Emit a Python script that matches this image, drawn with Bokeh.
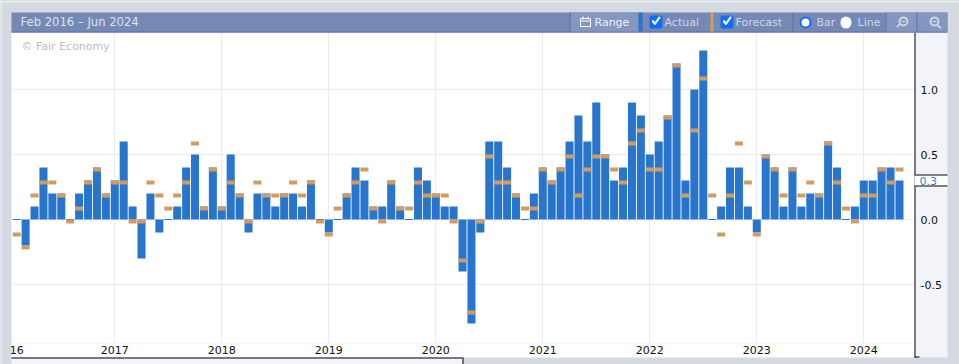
from bokeh.embed import file_html
from bokeh.resources import INLINE
from bokeh.plotting import figure
from bokeh.core.properties import value
from bokeh.models import FixedTicker, Range1d, NumeralTickFormatter, ColumnDataSource

# months since Feb 2016
actual = [0.0,-0.2,0.1,0.4,0.2,0.2,0.0,0.2,0.3,0.4,0.2,0.3,0.6,0.1,-0.3,0.2,-0.1,0.0,0.1,0.4,
          0.5,0.1,0.4,0.1,0.5,0.2,-0.1,0.2,0.2,0.1,0.2,0.2,0.1,0.3,0.0,-0.1,0.0,0.2,0.4,0.3,
          0.1,0.1,0.3,0.1,0.0,0.4,0.3,0.2,0.1,0.1,-0.4,-0.8,-0.1,0.6,0.6,0.4,0.2,0.0,0.2,0.4,
          0.3,0.4,0.6,0.8,0.6,0.9,0.5,0.3,0.4,0.9,0.8,0.5,0.6,0.8,1.2,0.3,1.0,1.3,0.0,0.1,
          0.4,0.4,0.1,-0.1,0.5,0.4,0.1,0.4,0.1,0.2,0.2,0.6,0.4,0.0,0.1,0.3,0.3,0.4,0.4,0.3]
forecast = [-0.1,-0.2,0.2,0.3,0.3,0.2,0.0,0.1,0.3,0.4,0.2,0.3,0.3,0.0,0.0,0.3,0.2,0.1,0.2,0.3,
            0.6,0.1,0.4,0.1,0.3,0.2,0.0,0.3,0.2,0.2,0.2,0.3,0.2,0.3,0.0,-0.1,0.1,0.2,0.3,0.4,
            0.1,0.0,0.3,0.1,0.1,0.3,0.2,0.2,0.2,0.0,-0.3,-0.7,0.0,0.5,0.3,0.3,0.2,0.1,0.1,0.4,
            0.3,0.4,0.5,0.2,0.4,0.5,0.5,0.4,0.3,0.6,0.7,0.4,0.4,0.8,1.2,0.2,0.7,1.1,0.2,-0.1,
            0.2,0.6,0.3,-0.1,0.5,0.4,0.2,0.4,0.2,0.3,0.2,0.6,0.3,0.1,0.0,0.2,0.2,0.4,0.3,0.4]
year_ticks = [11, 23, 35, 47, 59, 71, 83, 95]
year_labels = ["2017", "2018", "2019", "2020", "2021", "2022", "2023", "2024"]
value_ticks = [-0.5, 0.0, 0.5, 1.0]

BG, HEAD, HEAD2, PANEL = "#d5d9e2", "#7589b5", "#8497bf", "#f3f4f9"
BLUE, ORANGE, GRID = "#2875ce", "#d39c5e", "#e9eaf3"
LT = "#cfd6e6"
TITLE = "#dde2ee"
SEP = "#5a72a6"
TICKBOX = "#0d6efd"
W, H = 959, 364
ABS = {"position": "absolute", "left": "0px", "top": "0px"}

x = list(range(len(actual)))
MARK = 4 / 130        # forecast tick height (4px at 130px per unit)
THIN = 0.5 / 130
src = ColumnDataSource(dict(
    x=x,
    top=[a if a != 0 else THIN for a in actual],
    bottom=[0 if a != 0 else -THIN for a in actual],
    ftop=forecast,
    fbottom=[f - MARK for f in forecast],
))


def chrome_figure():
    f = figure(width=W, height=H, output_backend="svg", toolbar_location=None,
               x_range=Range1d(0, W), y_range=Range1d(H, 0),
               x_axis_type=None, y_axis_type=None,
               min_border=0, outline_line_color=None, styles=ABS)
    f.border_fill_alpha = 0
    f.background_fill_alpha = 0
    return f


back = chrome_figure()
front = chrome_figure()


def box(f, l, t, r, b, color=None, line=None, lw=1, radius=0):
    f.quad(left=[l], right=[r], top=[t], bottom=[b],
           fill_color=color, fill_alpha=1 if color else 0,
           line_color=line, line_width=lw, line_alpha=1 if line else 0,
           border_radius=radius)


def poly(f, xs, ys, color):
    f.patch(x=xs, y=ys, fill_color=color, line_color=color, line_width=0.5)


def label(f, px, py, s, color, size="11px"):
    f.text(x=[px], y=[py], text=[s], text_color=color, text_font=value("DejaVu Sans"),
           text_font_size=value(size), text_align="left", text_baseline="middle")


# page and panels behind the plot
box(back, 0, 0, W, H, BG)
box(back, 0, 0, W, 2, "#e8eaef")
box(back, 0, 0, 1, H, "#ffffff")
box(back, 915, 32, 947, 357, PANEL)
box(back, 11, 343, 915, 357, "white")
box(back, 11, 357, 462, H, PANEL)

p = figure(width=W, height=H, output_backend="svg", toolbar_location=None,
           x_range=Range1d(-0.583, 100.8), y_range=Range1d(-0.9538, 1.4385),
           y_axis_location="right",
           min_border_left=11, min_border_right=44, min_border_top=32, min_border_bottom=21,
           background_fill_color="white", outline_line_color=None, styles=ABS)
p.border_fill_alpha = 0
p.frame_width = 904
p.frame_height = 311

p.vbar(x="x", top="top", bottom="bottom", width=0.9, fill_color=BLUE, line_color=None, source=src)
p.vbar(x="x", top="ftop", bottom="fbottom", width=0.9, fill_color=ORANGE, line_color=None, source=src)

p.xaxis.ticker = FixedTicker(ticks=[0] + year_ticks)
p.xaxis.major_label_overrides = {0: "16", **dict(zip(year_ticks, year_labels))}
p.xaxis.axis_line_color = None
p.xaxis.major_tick_line_color = None
p.xaxis.minor_tick_line_color = None
p.xaxis.major_tick_out = 0
p.xaxis.minor_tick_out = 0
p.xaxis.major_label_standoff = 2
p.xaxis.major_label_text_font = "DejaVu Sans"
p.xaxis.major_label_text_font_size = "11px"
p.xaxis.major_label_text_color = "#111111"

p.yaxis.ticker = FixedTicker(ticks=value_ticks)
p.yaxis.formatter = NumeralTickFormatter(format="0.0")
p.yaxis.axis_line_color = None
p.yaxis.major_tick_line_color = None
p.yaxis.minor_tick_line_color = None
p.yaxis.major_tick_out = 0
p.yaxis.minor_tick_out = 0
p.yaxis.major_label_standoff = 5
p.yaxis.major_label_text_font = "DejaVu Sans"
p.yaxis.major_label_text_font_size = "11px"
p.yaxis.major_label_text_color = "#111111"

p.xgrid.ticker = FixedTicker(ticks=year_ticks)
p.ygrid.ticker = FixedTicker(ticks=value_ticks)
p.xgrid.grid_line_color = GRID
p.ygrid.grid_line_color = GRID

# axis and bottom frame lines
box(front, 914, 32, 915, 357, "black")
box(front, 914, 356, 919, 357, "black")
box(front, 11, 357, 462, 358, "black")
box(front, 462, 357, 463, H, "black")

# last value tag
box(front, 914, 174, 947, 186, "white")
box(front, 914, 174, 947, 175, "black")
box(front, 914, 185, 947, 186, "black")
label(front, 919, 180, "0.3", "#3b82d6")

# watermark
label(front, 21, 45.5, "\u00a9 Fair Economy", "#bcbcbc")

# header bar
box(front, 11, 12, 947, 32, HEAD)
box(front, 11, 31, 947, 32, SEP)
label(front, 20, 21.5, "Feb 2016 \u2013 Jun 2024", TITLE, "11.6px")

# range button
box(front, 570, 12, 638, 31, HEAD2)
box(front, 569, 12, 570, 31, SEP)
box(front, 580, 18, 590, 26, None, line="white")
box(front, 580, 20, 590, 21, "white")
box(front, 582, 16, 583, 19, "white")
box(front, 587, 16, 588, 19, "white")
label(front, 594, 21.5, "Range", "#eef1f7")

# actual / forecast toggles
box(front, 638, 12, 642, 31, BLUE)
box(front, 649, 15, 662, 28, TICKBOX, radius=2)
poly(front, [651.5, 654.5, 660, 658.5, 654.5, 652.5], [21.5, 24.5, 17, 16, 22, 19.5], "white")
label(front, 664, 21.5, "Actual", LT)
box(front, 710, 12, 713, 31, ORANGE)
box(front, 720, 15, 733, 28, TICKBOX, radius=2)
poly(front, [722.5, 725.5, 731, 729.5, 725.5, 723.5], [21.5, 24.5, 17, 16, 22, 19.5], "white")
label(front, 735, 21.5, "Forecast", LT)

# bar / line radios
box(front, 792, 12, 793, 31, SEP)
box(front, 800, 17, 810, 27, "white", line=TICKBOX, lw=2, radius=5)
label(front, 816, 21.5, "Bar", LT)
box(front, 840, 16, 851, 28, "white", radius=6)
label(front, 857, 21.5, "Line", LT)

# zoom buttons
box(front, 885, 12, 947, 31, HEAD2)
box(front, 885, 12, 886, 31, SEP)
box(front, 916, 12, 917, 31, SEP)
box(front, 899, 17, 907, 25, None, line=LT, lw=2, radius=4)
poly(front, [900, 897, 896, 899], [24, 27, 26, 23], LT)
box(front, 901, 20.5, 905, 21.5, LT)
box(front, 930, 17, 938, 25, None, line=LT, lw=2, radius=4)
poly(front, [937, 941, 940, 936], [24, 27, 28, 25], LT)
box(front, 932, 20.5, 936, 21.5, LT)

html = file_html([back, p, front], INLINE)
html = html.replace("<body>", f'<body style="background:{BG};overflow:hidden">')
open("out.html", "w").write(html)
